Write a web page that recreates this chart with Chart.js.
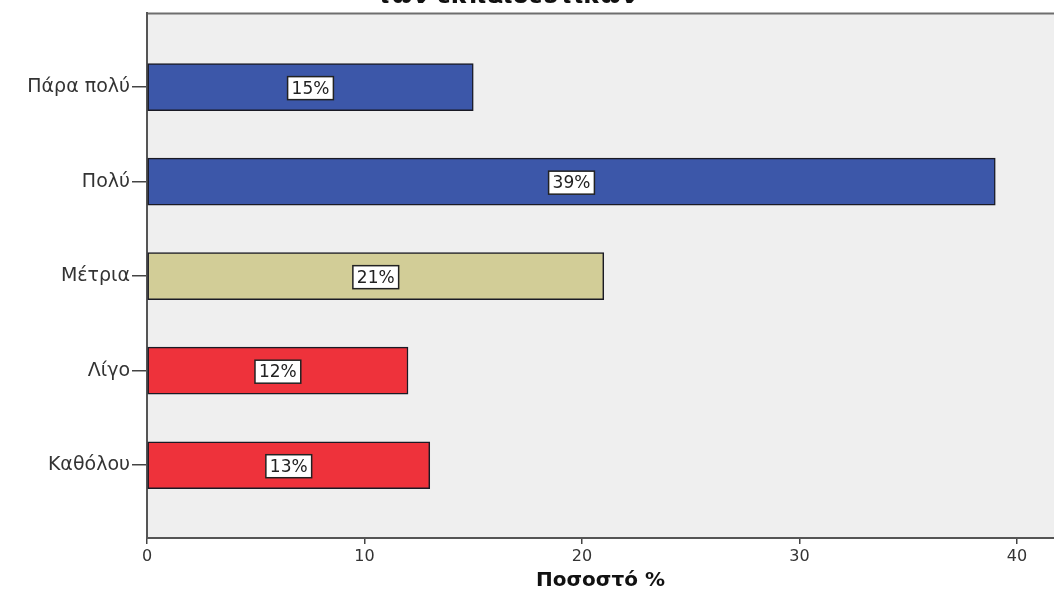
<!DOCTYPE html>
<html>
<head>
<meta charset="utf-8">
<script src="https://cdn.jsdelivr.net/npm/chart.js@4/dist/chart.umd.min.js"></script>
<style>
  html, body { margin: 0; padding: 0; background: #fff; }
  #wrap { width: 1054px; height: 597px; position: relative; }
</style>
</head>
<body>
<div id="wrap"><canvas id="chart" width="1054" height="597"></canvas></div>
<script>
const categories = ['Πάρα πολύ', 'Πολύ', 'Μέτρια', 'Λίγο', 'Καθόλου']
const percents = [15, 39, 21, 12, 13]
const barColors = ['#3c57a9', '#3c57a9', '#d2cd97', '#ee323b', '#ee323b']
const xTicks = [0, 10, 20, 30, 40]
const titleText = 'των εκπαιδευτικών'
const xTitle = 'Ποσοστό %'

const font = 'DejaVu Sans'

// plot background + top frame line + partly visible title
const frame = {
  id: 'frame',
  beforeDraw (chart) {
    const { ctx, chartArea: a } = chart
    ctx.save()
    ctx.fillStyle = '#efefef'
    ctx.fillRect(a.left, a.top, a.right - a.left, a.bottom - a.top)
    ctx.strokeStyle = '#6e6e6e'
    ctx.lineWidth = 2
    ctx.beginPath()
    ctx.moveTo(a.left, a.top)
    ctx.lineTo(a.right, a.top)
    ctx.stroke()
    ctx.restore()
  },
  afterDraw (chart) {
    const { ctx } = chart
    ctx.save()
    ctx.fillStyle = '#111'
    ctx.font = 'bold 24px "' + font + '"'
    ctx.textAlign = 'center'
    ctx.textBaseline = 'alphabetic'
    ctx.fillText(titleText, 507, 3)
    ctx.restore()
  }
}

// white boxed percentage labels in the middle of each bar
const boxLabels = {
  id: 'boxLabels',
  afterDatasetsDraw (chart) {
    const { ctx } = chart
    const meta = chart.getDatasetMeta(0)
    ctx.save()
    ctx.font = '17px "' + font + '"'
    ctx.textAlign = 'center'
    ctx.textBaseline = 'middle'
    meta.data.forEach((bar, i) => {
      const text = percents[i] + '%'
      const cx = (bar.x + bar.base) / 2
      const cy = bar.y + 1
      const w = ctx.measureText(text).width + 8
      const h = 23
      ctx.fillStyle = '#fff'
      ctx.fillRect(cx - w / 2, cy - h / 2, w, h)
      ctx.strokeStyle = '#222'
      ctx.lineWidth = 1.5
      ctx.strokeRect(cx - w / 2, cy - h / 2, w, h)
      ctx.fillStyle = '#222'
      ctx.fillText(text, cx, cy + 1)
    })
    ctx.restore()
  }
}

const data = {
  datasets: [{
    data: percents.map((v, i) => ({ x: v, y: i })),
    backgroundColor: barColors,
    borderColor: '#1a1a24',
    borderWidth: 1.5,
    borderSkipped: false,
    barThickness: 47
  }]
}

const config = {
  type: 'bar',
  data,
  plugins: [frame, boxLabels],
  options: {
    indexAxis: 'y',
    responsive: false,
    animation: false,
    layout: { padding: { top: 13, right: 0, left: 0, bottom: 0 } },
    plugins: {
      legend: { display: false },
      tooltip: { enabled: false },
      title: { display: false }
    },
    scales: {
      x: {
        type: 'linear',
        min: 0,
        max: 41.7,
        afterBuildTicks (scale) {
          scale.ticks = xTicks.map(v => ({ value: v }))
        },
        afterFit (scale) { scale.height = 59 },
        grid: { drawOnChartArea: false, drawTicks: true, tickLength: 6, color: '#444', lineWidth: 1.5 },
        border: { display: true, color: '#555', width: 2 },
        ticks: { color: '#333', padding: 3, font: { family: font, size: 16 } },
        title: {
          display: true,
          text: xTitle,
          color: '#111',
          padding: { top: 6 },
          font: { family: font, size: 20, weight: 'bold' }
        }
      },
      y: {
        type: 'linear',
        reverse: true,
        offset: false,
        min: -0.78,
        max: 4.77,
        afterBuildTicks (scale) {
          scale.ticks = categories.map((c, i) => ({ value: i }))
        },
        afterFit (scale) { scale.width = 147 },
        grid: { offset: false, drawOnChartArea: false, drawTicks: true, tickLength: 15, color: '#444', lineWidth: 1.5 },
        border: { display: true, color: '#555', width: 2 },
        ticks: {
          color: '#333',
          padding: 2,
          font: { family: font, size: 19 },
          callback: (v) => categories[v]
        }
      }
    }
  }
}

new Chart(document.getElementById('chart'), config)
</script>
</body>
</html>
